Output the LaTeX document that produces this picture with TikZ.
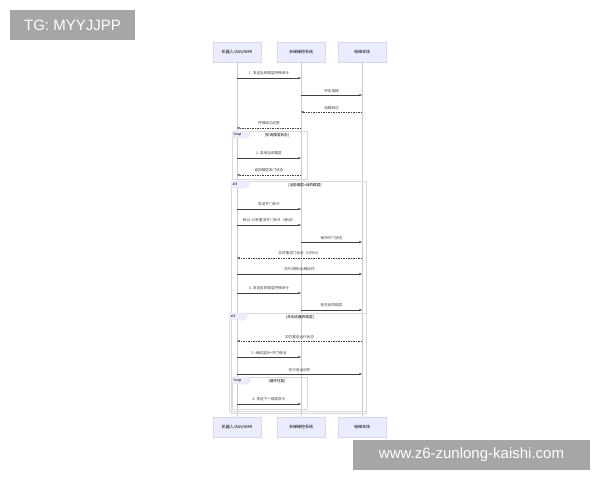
\documentclass[tikz,border=0pt]{standalone}
\usepackage{fontspec}
\setmainfont{Noto Sans CJK SC}
\newfontfamily\wmfont{Liberation Sans}
\usetikzlibrary{arrows.meta}
\definecolor{actfill}{HTML}{ECECFF}
\definecolor{actline}{HTML}{D6D6F5}
\definecolor{wmgray}{HTML}{A6A6A6}
\tikzset{
actor/.style={draw=actline,fill=actfill,minimum width=48,minimum height=20,inner sep=1pt,font=\fontsize{4}{5}\selectfont},
msg/.style={-{Stealth[length=3pt,width=2.2pt]},line width=0.4pt,draw=black!75},
ret/.style={msg,dash pattern=on 1.5pt off 1pt},
lbl/.style={above=2.5pt,inner sep=0pt,font=\fontsize{3.6}{4}\selectfont,text=black!75},
fragbox/.style={draw=black!15,line width=0.4pt},
tagbox/.style={fill=actfill,draw=black!15,line width=0.3pt},
wm/.style={fill=wmgray,text=white,inner sep=0pt,font=\wmfont\fontsize{15}{18}\selectfont}
}
\begin{document}
\begin{tikzpicture}[x=1pt,y=-1pt]
\fill[white](0,0)rectangle(600,480);
\useasboundingbox(0,0)rectangle(600,480);
\foreach \n/\x/\t in {r/237/{机器人/AGV/AMR},c/301/多梯梯控系统,e/362/电梯本体}{
\node[actor](\n)at(\x,52){\t};
\node[actor](\n b)at(\x,427){\t};
\draw[black!20,line width=0.4pt](\n.south)--(\n b.north);}
\draw[fragbox](232,131)rectangle(307,179);
\draw[fragbox](231,181)rectangle(366,413);
\draw[fragbox](229,313)rectangle(366,411);
\draw[fragbox](232,377)rectangle(307,409);
\foreach \x/\y/\w/\k/\c/\cx in {232/131/18/loop/{[轮询楼层状态]}/277,231/181/18/alt/{[当前楼层=目的楼层]}/305,229/313/18/alt/{[未到达最终楼层]}/300,232/377/18/loop/{[循环往复]}/277}{
\draw[tagbox](\x,\y)--++(\w,0)--++(0,4)--++(-3,3)--(\x,\y+7)--cycle;
\node[font=\fontsize{3.6}{4}\selectfont,anchor=west,inner sep=0pt]at(\x+1.5,\y+3.3){\k};
\node[font=\fontsize{3.6}{4}\selectfont,inner sep=0pt]at(\cx,\y+4){\c};}
\foreach \y/\f/\t/\s/\txt in {
78/r/c/msg/{1. 发送当前楼层呼梯命令},
95/c/e/msg/{呼叫电梯},
112/e/c/ret/{电梯到达},
128/c/r/ret/{呼梯成功应答},
158/r/c/msg/{2. 查询当前楼层},
175/c/r/ret/{返回楼层及门状态},
209/r/c/msg/{发送开门命令},
225/r/c/msg/{每10-15秒重发开门命令（保活）},
242/c/e/msg/{保持开门状态},
258/e/r/ret/{实时推送门状态（OPEN）},
274/r/e/msg/{执行进梯/出梯动作},
293/r/c/msg/{4. 发送目的楼层呼梯命令},
310/c/e/msg/{前往目的楼层},
341/e/r/ret/{实时推送运行状态},
357/r/c/msg/{5. 继续监听+开门保活},
374/r/e/msg/{执行进出动作},
404/r/c/msg/{4. 发送下一楼层命令}}{
\draw[\s](\f|-0,\y)--(\t|-0,\y)node[midway,lbl]{\txt};}
\node[wm,minimum width=125,minimum height=30](tg)at(72.5,25){TG: MYYJJPP};
\node[wm,minimum width=237,minimum height=30](url)at(471.5,455){www.z6-zunlong-kaishi.com};
\end{tikzpicture}
\end{document}
